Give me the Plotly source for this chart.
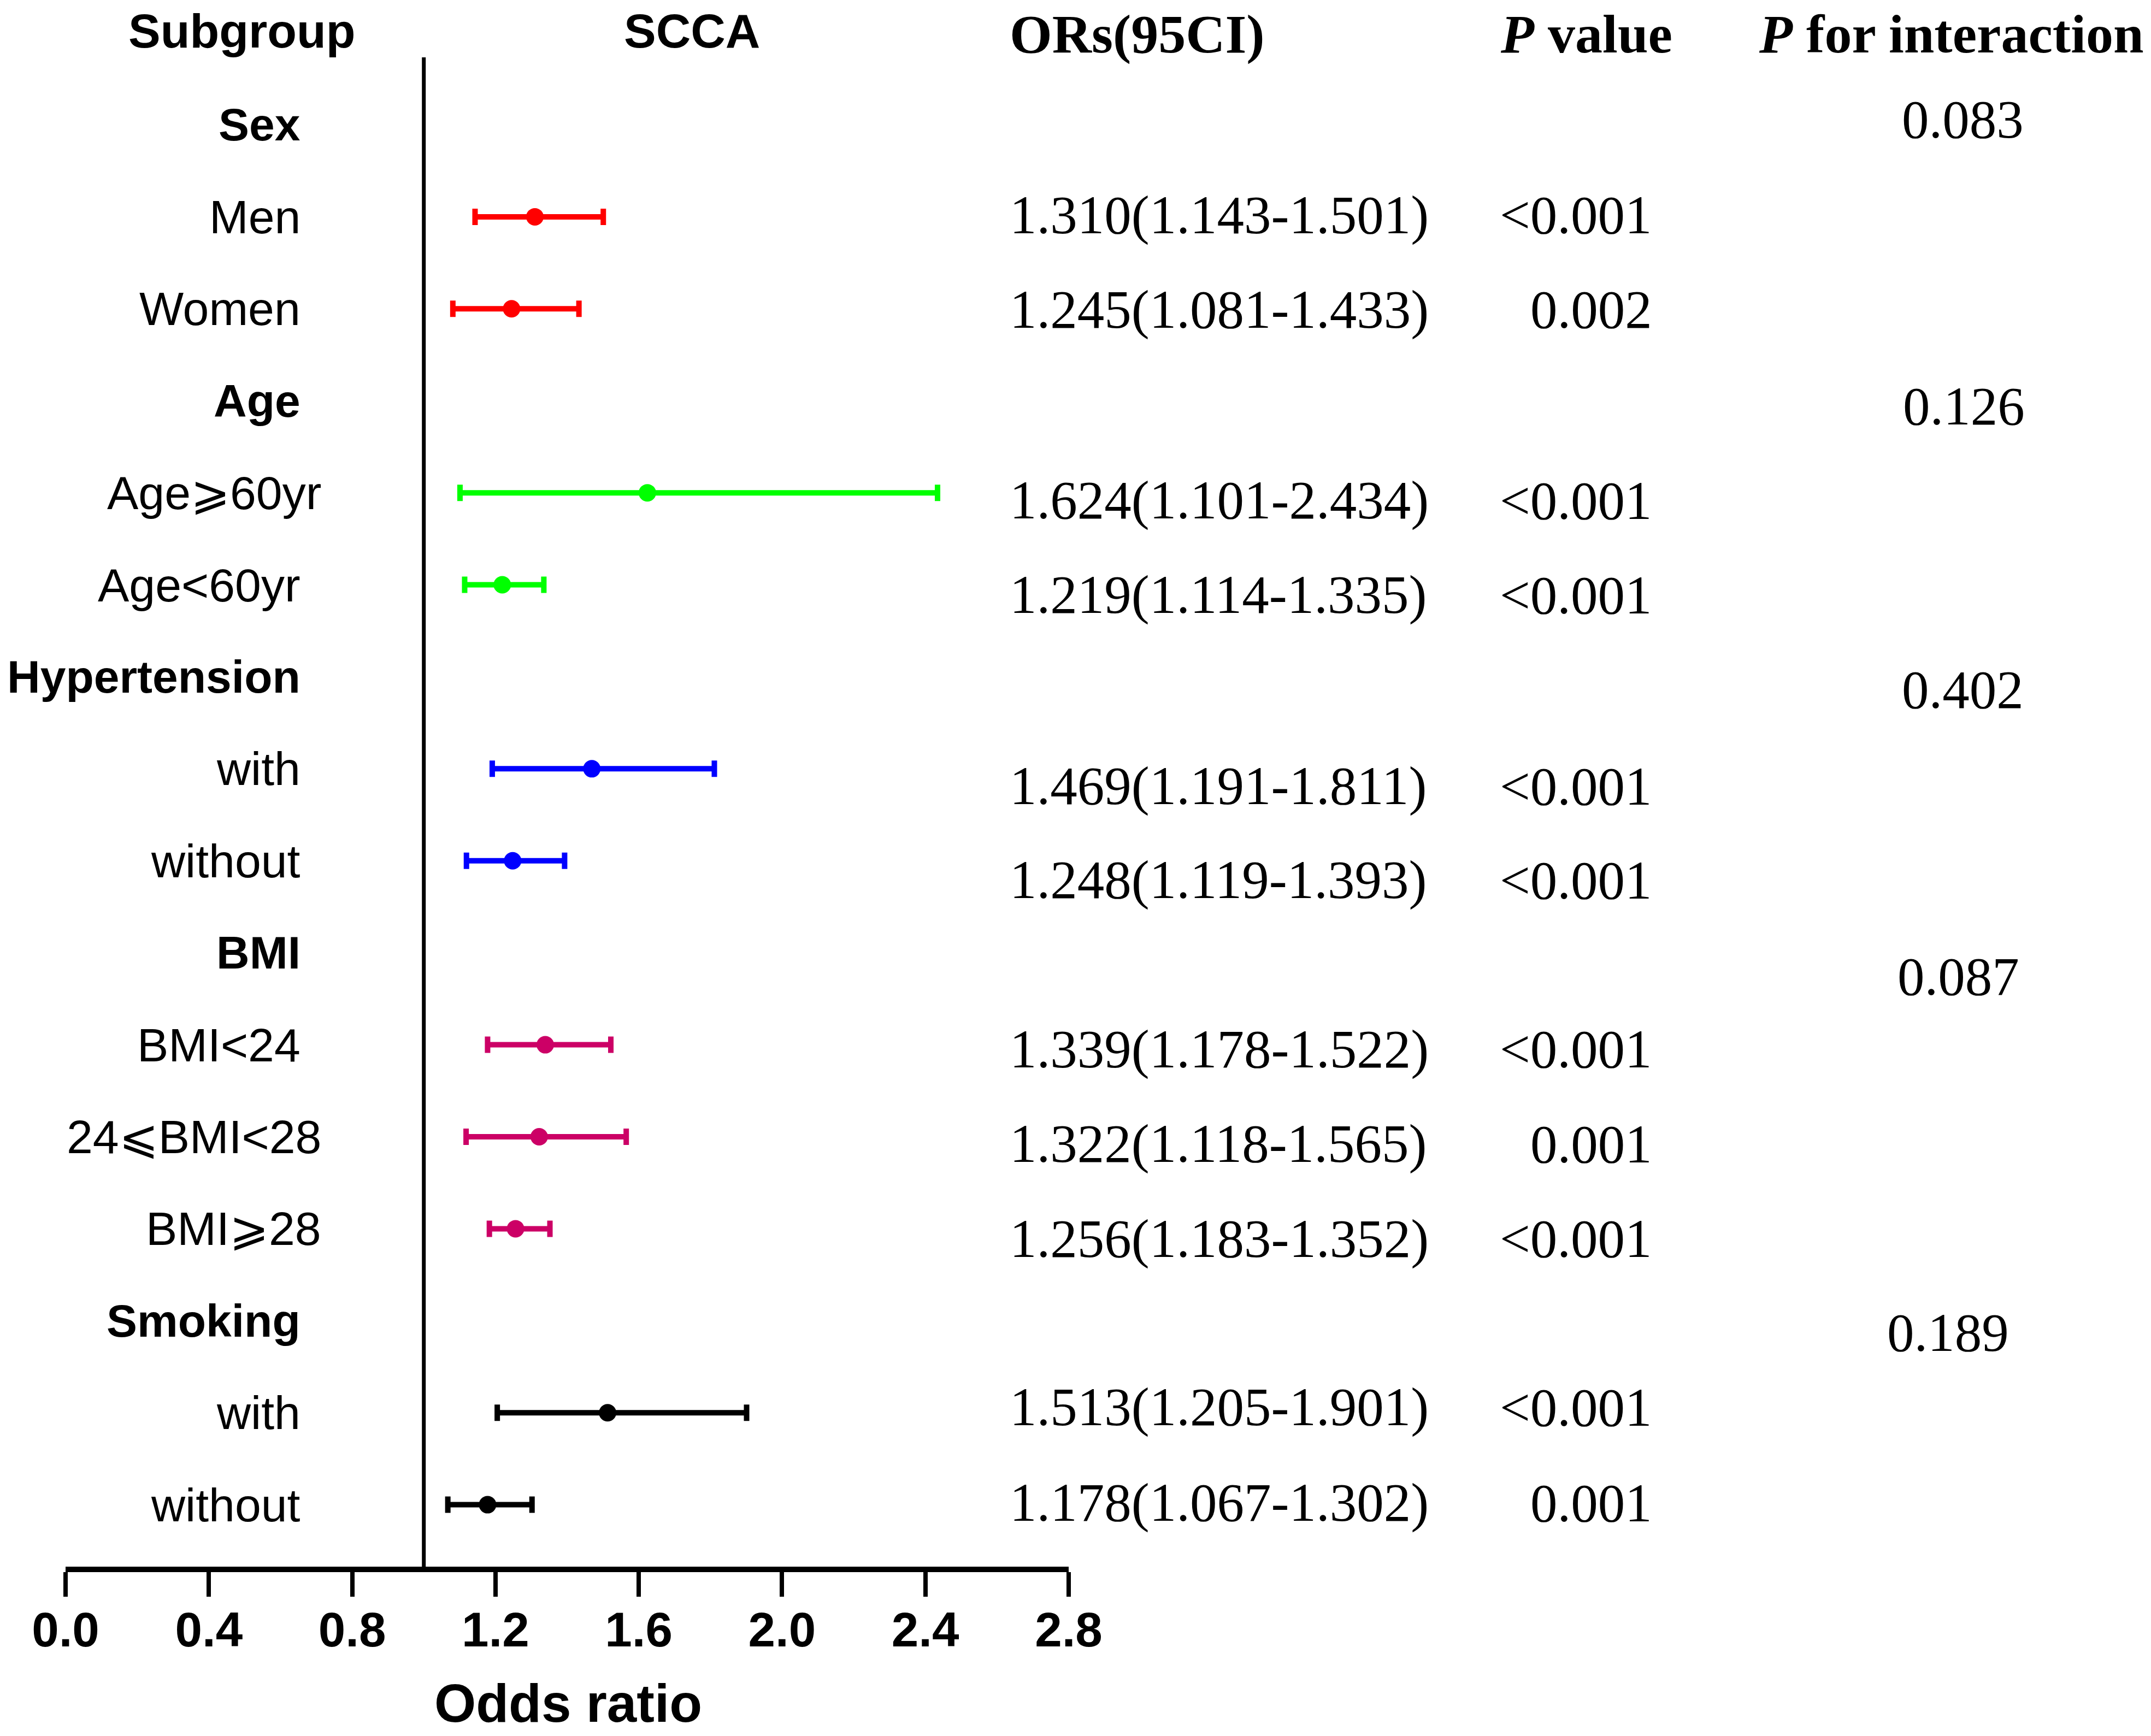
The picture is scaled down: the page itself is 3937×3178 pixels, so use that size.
import plotly.graph_objects as go

# ---------------- data ----------------
groups = ["Sex", "Age", "Hypertension", "BMI", "Smoking"]
group_members = [
    ["Men", "Women"],
    ["Age⩾60yr", "Age<60yr"],
    ["with", "without"],
    ["BMI<24", "24⩽BMI<28", "BMI⩾28"],
    ["with", "without"],
]
or_vals = [1.310, 1.245, 1.624, 1.219, 1.469, 1.248, 1.339, 1.322, 1.256, 1.513, 1.178]
ci_low = [1.143, 1.081, 1.101, 1.114, 1.191, 1.119, 1.178, 1.118, 1.183, 1.205, 1.067]
ci_high = [1.501, 1.433, 2.434, 1.335, 1.811, 1.393, 1.522, 1.565, 1.352, 1.901, 1.302]
p_values = ["<0.001", "0.002", "<0.001", "<0.001", "<0.001", "<0.001",
            "<0.001", "0.001", "<0.001", "<0.001", "0.001"]
p_interaction = ["0.083", "0.126", "0.402", "0.087", "0.189"]
x_ticks = [0.0, 0.4, 0.8, 1.2, 1.6, 2.0, 2.4, 2.8]
headers = ["Subgroup", "SCCA", "ORs(95CI)", "<i>P</i> value", "<i>P</i> for interaction"]

# ---------------- style ----------------
group_colors = ["#FF0000", "#00FF00", "#0000FF", "#CC0066", "#000000"]
# small vertical offsets (in row units) of the statistics text columns
stat_offsets = [-0.02, 0.01, 0.085, 0.11, 0.19, 0.21, 0.05, 0.08, 0.11, -0.06, -0.02]
pint_offsets = [-0.06, 0.06, 0.14, 0.26, 0.13]
pint_x = [3592, 3594, 3592, 3584, 3565]

W, H = 3937, 3178
OFF = 8  # page body margin compensation
SANS = "Liberation Sans, Arial, sans-serif"
SERIF = "Liberation Serif, Times New Roman, serif"

fig = go.Figure()

row = 0
k = 0
label_rows = []   # (row, text, bold)
group_rows = []
member_rows = []
for gi, (g, members) in enumerate(zip(groups, group_members)):
    label_rows.append((row, g, True))
    group_rows.append(row)
    row += 1
    idx = []
    for m in members:
        label_rows.append((row, m, False))
        member_rows.append(row)
        idx.append(k)
        k += 1
        row += 1
    ys = [member_rows[i] for i in idx]
    xs = [or_vals[i] for i in idx]
    plus = [ci_high[i] - or_vals[i] for i in idx]
    minus = [or_vals[i] - ci_low[i] for i in idx]
    fig.add_trace(go.Scatter(
        x=xs, y=ys, mode="markers",
        marker=dict(color=group_colors[gi], size=32, line=dict(width=0)),
        error_x=dict(type="data", symmetric=False, array=plus, arrayminus=minus,
                     color=group_colors[gi], thickness=10, width=15),
        cliponaxis=False, showlegend=False, hoverinfo="skip",
    ))

annotations = []

def px(x):
    return (x - OFF) / W

def py(y):
    return 1 - (y - OFF) / H

# subgroup labels
for r, txt, bold in label_rows:
    xr = 590 if ("⩾" in txt or "⩽" in txt) else 552
    annotations.append(dict(
        x=px(xr), xref="paper", y=r, yref="y", text=txt, showarrow=False,
        xanchor="right", yanchor="middle",
        font=dict(family=SANS, size=84 if bold else 86, color="black",
                  weight="bold" if bold else "normal"),
    ))

# OR text and p values
for i in range(len(or_vals)):
    yy = member_rows[i] + stat_offsets[i]
    annotations.append(dict(
        x=px(1846), xref="paper", y=yy, yref="y",
        text=f"{or_vals[i]:.3f}({ci_low[i]:.3f}-{ci_high[i]:.3f})",
        showarrow=False, xanchor="left", yanchor="middle",
        font=dict(family=SERIF, size=99, color="black"),
    ))
    annotations.append(dict(
        x=px(3026), xref="paper", y=yy, yref="y", text=p_values[i],
        showarrow=False, xanchor="right", yanchor="middle",
        font=dict(family=SERIF, size=99, color="black"),
    ))

# P for interaction
for gi, r in enumerate(group_rows):
    annotations.append(dict(
        x=px(pint_x[gi]), xref="paper", y=r + pint_offsets[gi], yref="y", text=p_interaction[gi],
        showarrow=False, xanchor="center", yanchor="middle",
        font=dict(family=SERIF, size=99, color="black"),
    ))

# headers
header_specs = [
    (442, "center", SANS, 56), (1266, "center", SANS, 56), (1846, "left", SERIF, 62),
    (2903, "center", SERIF, 62), (3926, "right", SERIF, 62),
]
for (hx, anc, fam, hy), txt in zip(header_specs, headers):
    annotations.append(dict(
        x=px(hx), xref="paper", y=py(hy), yref="paper", text=txt, showarrow=False,
        xanchor=anc, yanchor="middle",
        font=dict(family=fam, size=88 if fam == SANS else 100, color="black", weight="bold"),
    ))

# axis title
annotations.append(dict(
    x=px(1040), xref="paper", y=py(3118), yref="paper", text="Odds ratio", showarrow=False,
    xanchor="center", yanchor="middle",
    font=dict(family=SANS, size=98, color="black", weight="bold"),
))

top_px, bot_px, row0_px = 105, 2868, 228.5
row_h = (2754.6 - 228.5) / 15

fig.update_layout(
    width=W, height=H,
    margin=dict(l=0, r=0, t=0, b=0, autoexpand=False),
    paper_bgcolor="white", plot_bgcolor="white",
    annotations=annotations,
    shapes=[dict(type="line", xref="x", yref="y domain", x0=1, x1=1, y0=0, y1=1,
                 line=dict(color="black", width=7))],
    xaxis=dict(
        domain=[px(120), px(1956)], range=[0, 2.8], automargin=False,
        tickmode="array", tickvals=x_ticks, ticktext=[f"{t:.1f}" for t in x_ticks],
        showline=True, linecolor="black", linewidth=10,
        ticks="outside", ticklen=45, tickwidth=8, tickcolor="black",
        ticklabelstandoff=-16,
        tickfont=dict(family=SANS, size=89, color="black", weight="bold"),
        showgrid=False, zeroline=False, fixedrange=True,
    ),
    yaxis=dict(
        domain=[py(bot_px), py(top_px)], automargin=False,
        range=[(bot_px - row0_px) / row_h, -(row0_px - top_px) / row_h],
        showline=False, showticklabels=False, ticks="", showgrid=False, zeroline=False,
    ),
)

fig.write_html("out.html")
